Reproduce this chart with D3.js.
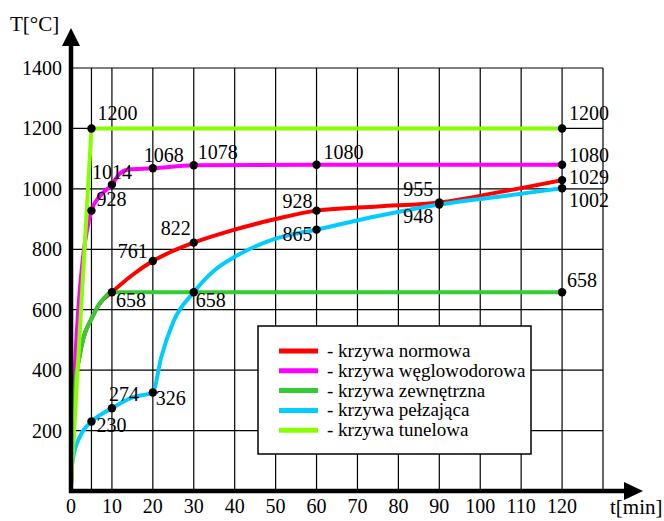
<!DOCTYPE html>
<html>
<head>
<meta charset="utf-8">
<script src="https://cdn.jsdelivr.net/npm/d3@7"></script>
<style>
  body { margin: 0; background: #fff; }
</style>
</head>
<body>
<svg id="chart" width="664" height="521"></svg>
<script>
// axis ticks
const tTicks = [0, 10, 20, 30, 40, 50, 60, 70, 80, 90, 100, 110, 120];
const tGrid = [5, 10, 20, 30, 40, 50, 60, 70, 80, 90, 100, 110, 120, 130];
const yTicks = [200, 400, 600, 800, 1000, 1200, 1400];

// curves [t min, T degC]
const normowa = [[0, 20], [1, 340], [2, 440], [3, 505], [5, 570], [7, 620], [10, 658], [15, 715], [20, 761], [25, 795], [30, 822], [40, 865], [50, 900], [60, 928], [75, 942], [90, 955], [105, 990], [120, 1029]];
const weglowodorowa = [[0, 20], [1, 420], [2, 640], [3, 780], [5, 928], [7, 975], [10, 1014], [12, 1052], [14, 1064], [20, 1068], [30, 1078], [60, 1080], [120, 1080]];
const zewnetrzna = [[0, 20], [1, 340], [2, 440], [3, 505], [5, 570], [7, 620], [10, 658], [120, 658]];
const pelzajaca = [[0, 70], [1, 140], [2, 175], [3, 200], [5, 230], [10, 274], [15, 310], [20, 326], [22, 440], [25, 560], [30, 658], [35, 730], [40, 775], [50, 835], [60, 865], [75, 910], [90, 948], [105, 975], [120, 1002]];
const tunelowa = [[0, 20], [5, 1200], [120, 1200]];

// labelled points
const normowaPts = [[20, 761], [30, 822], [60, 928], [90, 955], [120, 1029]];
const weglowodorowaPts = [[5, 928], [10, 1014], [20, 1068], [30, 1078], [60, 1080], [120, 1080]];
const zewnetrznaPts = [[10, 658], [120, 658]];
const pelzajacaPts = [[5, 230], [10, 274], [20, 326], [30, 658], [60, 865], [90, 948], [120, 1002]];
const tunelowaPts = [[5, 1200], [120, 1200]];

const legendNames = ["- krzywa normowa", "- krzywa węglowodorowa", "- krzywa zewnętrzna", "- krzywa pełzająca", "- krzywa tunelowa"];
const colors = ["#ff0000", "#ff00ff", "#33cc33", "#00ccff", "#88ff00"];

// label placement for each point: [anchor, dx, dy]
const placeNormowa = [["end", -5, -3], ["end", -3, -8], ["end", -4, -3], ["end", -6, -6], ["start", 7, 4]];
const placeWegl = [["start", 5, -5], ["middle", 0, -6], ["start", -9, -6], ["start", 4, -6], ["start", 7, -6], ["start", 7, -3]];
const placeZewn = [["start", 4, 15], ["start", 5, -5]];
const placePelz = [["start", 5, 10], ["start", -3, -7], ["start", 3, 12], ["start", 2, 15], ["end", -4, 11], ["end", -6, 18], ["start", 7, 19]];
const placeTunel = [["start", 6, -8], ["start", 7, -8]];

let svg = d3.select("svg#chart");

let x = d3.scaleLinear().domain([0, 130]).range([71, 603]);
let y = d3.scaleLinear().domain([0, 1400]).range([491, 68]);

function label(px, py, txt, size, anchor) {
    return svg.append("text")
    .attr("x", px).attr("y", py)
    .attr("text-anchor", anchor)
    .attr("font-family", "Liberation Serif")
    .attr("font-size", size)
    .attr("fill", "#000")
    .text(txt);
}

// grid
let grid = svg.append("g");
tGrid.forEach(function(t) {
    grid.append("line")
    .attr("x1", x(t)).attr("x2", x(t))
    .attr("y1", y(0)).attr("y2", y(1400))
    .attr("stroke", "#000").attr("stroke-width", 1.2);
});
yTicks.forEach(function(v) {
    grid.append("line")
    .attr("x1", x(0)).attr("x2", x(130))
    .attr("y1", y(v)).attr("y2", y(v))
    .attr("stroke", "#000").attr("stroke-width", 1.2);
});

// tick labels
tTicks.forEach(function(t) {
    label(x(t), 513, t, 20, "middle");
});
yTicks.forEach(function(v) {
    label(62, y(v) + 7, v, 20, "end");
});

// curves
let line = d3.line()
    .x(function(d) { return x(d[0]); })
    .y(function(d) { return y(d[1]); })
    .curve(d3.curveMonotoneX);

let curves = [normowa, weglowodorowa, pelzajaca, zewnetrzna];
let curveColors = [colors[0], colors[1], colors[3], colors[2]];
curves.forEach(function(c, i) {
    svg.append("path")
    .attr("d", line(c))
    .attr("fill", "none")
    .attr("stroke", curveColors[i])
    .attr("stroke-width", 4);
});
svg.append("path")
    .attr("d", d3.line().x(function(d) { return x(d[0]); }).y(function(d) { return y(d[1]); })(tunelowa))
    .attr("fill", "none")
    .attr("stroke", colors[4])
    .attr("stroke-width", 4);

// axes with arrows
svg.append("line")
    .attr("x1", x(0)).attr("x2", x(0))
    .attr("y1", 493).attr("y2", 44)
    .attr("stroke", "#000").attr("stroke-width", 4.5);
svg.append("path")
    .attr("d", "M" + x(0) + ",28 L" + (x(0) - 9) + ",46 L" + (x(0) + 9) + ",46 Z")
    .attr("fill", "#000");
svg.append("line")
    .attr("x1", x(0) - 2).attr("x2", 626)
    .attr("y1", y(0)).attr("y2", y(0))
    .attr("stroke", "#000").attr("stroke-width", 4.5);
svg.append("path")
    .attr("d", "M643," + y(0) + " L624," + (y(0) - 9) + " L624," + (y(0) + 9) + " Z")
    .attr("fill", "#000");

// axis titles
label(10, 31, "T[°C]", 21, "start");
label(610, 514, "t[min]", 21, "start");

// points and labels
let allPts = [normowaPts, weglowodorowaPts, zewnetrznaPts, pelzajacaPts, tunelowaPts];
let allPlace = [placeNormowa, placeWegl, placeZewn, placePelz, placeTunel];
allPts.forEach(function(pts, s) {
    pts.forEach(function(p, i) {
        svg.append("circle")
        .attr("cx", x(p[0])).attr("cy", y(p[1]))
        .attr("r", 4.2)
        .attr("fill", "#000");
        let pl = allPlace[s][i];
        label(x(p[0]) + pl[1], y(p[1]) + pl[2], p[1], 20, pl[0]);
    });
});

// legend
let legend = svg.append("g");
legend.append("rect")
    .attr("x", 258).attr("y", 326)
    .attr("width", 273).attr("height", 128)
    .attr("fill", "#fff")
    .attr("stroke", "#000").attr("stroke-width", 1.5);
legendNames.forEach(function(name, i) {
    let ly = 351 + i * 19.8;
    legend.append("line")
    .attr("x1", 279).attr("x2", 318)
    .attr("y1", ly).attr("y2", ly)
    .attr("stroke", colors[i]).attr("stroke-width", 5);
    label(327, ly + 6, name, 19, "start");
});
</script>
</body>
</html>
